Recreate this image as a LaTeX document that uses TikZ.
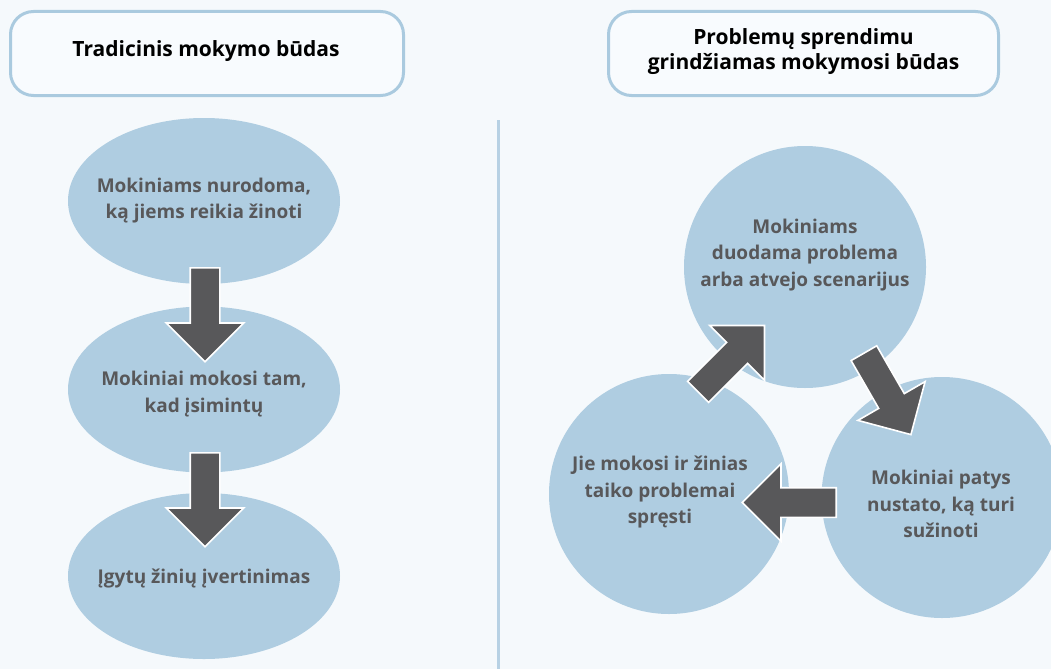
\documentclass[tikz,border=0pt]{standalone}
\usepackage{fontspec}
\setmainfont{Open Sans}
\usetikzlibrary{shapes.geometric,shapes.arrows}
\definecolor{pagebg}{HTML}{F5F9FC}
\definecolor{boxfill}{HTML}{F8FBFE}
\definecolor{boxline}{HTML}{AACADF}
\definecolor{bubble}{HTML}{AFCDE1}
\definecolor{inkgray}{HTML}{58585A}
\definecolor{ruleblue}{HTML}{B7D1E4}
\tikzset{
  titlebox/.style={draw=boxline, line width=3pt, fill=boxfill, rounded corners=23pt,
    minimum height=84pt, inner sep=0pt},
  titletext/.style={font=\bfseries\fontsize{21}{25}\selectfont, text=black, align=center},
  oval/.style={ellipse, fill=bubble, inner sep=0pt, minimum width=272pt, minimum height=166pt},
  disc/.style={circle, fill=bubble, inner sep=0pt, minimum size=#1},
  bubbletext/.style={font=\bfseries\fontsize{19}{26.5}\selectfont, text=inkgray, align=center},
  flow/.style={single arrow, single arrow tip angle=90, single arrow head extend=24pt,
    inner xsep=0pt, inner ysep=14pt, minimum height=94pt, minimum width=0pt,
    fill=inkgray, draw=white, line width=1.6pt, anchor=tail},
}
\begin{document}
\begin{tikzpicture}[x=1pt,y=-1pt]
\useasboundingbox (0,0) rectangle (1051,669);
\clip (0,0) rectangle (1051,669);
\fill[pagebg] (0,0) rectangle (1051,669);

% headings
\node[titlebox, minimum width=393pt] (h1) at (207,53.5) {};
\node[titletext] (h1t) at (206,51) {Tradicinis mokymo būdas};
\node[titlebox, minimum width=390pt] (h2) at (803.5,53.5) {};
\node[titletext] (h2t) at (803.5,51.5) {Problemų sprendimu\\grindžiamas mokymosi būdas};

% column divider
\draw[ruleblue, line width=3.3pt] (498.5,120) -- (498.5,669);

% left column: linear sequence
\node[oval] (e1) at (204,201) {};
\node[oval] (e2) at (204,389.5) {};
\node[oval] (e3) at (204,576) {};
\node[bubbletext] (e1t) at (204,200.5) {Mokiniams nurodoma,\\ką jiems reikia žinoti};
\node[bubbletext] (e2t) at (204,394) {Mokiniai mokosi tam,\\kad įsimintų};
\node[bubbletext] (e3t) at (204,578) {Įgytų žinių įvertinimas};

% right column: cycle
\node[disc=242pt] (c1) at (805,267) {};
\node[disc=240pt] (c2) at (669,494) {};
\node[disc=241pt] (c3) at (942,497.5) {};
\node[bubbletext] (c1t) at (805,255) {Mokiniams\\duodama problema\\arba atvejo scenarijus};
\node[bubbletext] (c2t) at (660,492) {Jie mokosi ir žinias\\taiko problemai\\spręsti};
\node[bubbletext] (c3t) at (941,504) {Mokiniai patys\\nustato, ką turi\\sužinoti};

% block arrows
\node[flow, rotate=-90] (a1) at (205,267) {};
\node[flow, rotate=-90] (a2) at (205,452) {};
\node[flow, rotate=45] (a3) at (697.5,392.5) {};
\node[flow, rotate=-60] (a4) at (863.5,352.5) {};
\node[flow, rotate=180] (a5) at (837,502.5) {};
\end{tikzpicture}
\end{document}
